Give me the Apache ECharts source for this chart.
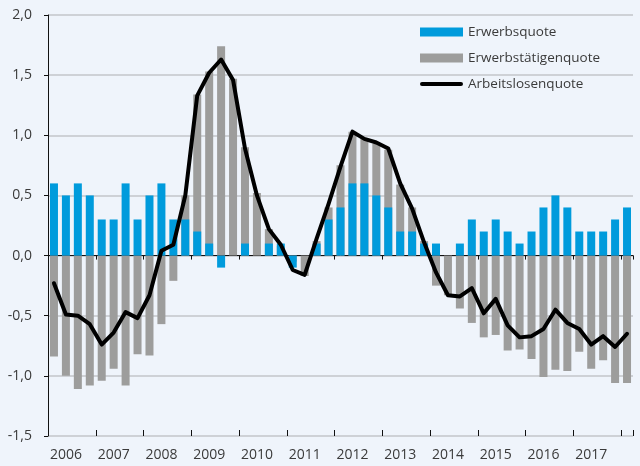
<!DOCTYPE html>
<html>
<head>
<meta charset="utf-8">
<script src="https://cdn.jsdelivr.net/npm/echarts@6/dist/echarts.min.js"></script>
<style>
  html, body { margin: 0; padding: 0; background: #eff4fb; }
  #chart { width: 640px; height: 466px; }
</style>
</head>
<body>
<div id="chart"></div>
<script>
// Quartale 2006 Q1 bis 2018 Q1
const years = ['2006', '2007', '2008', '2009', '2010', '2011', '2012', '2013', '2014', '2015', '2016', '2017', '2018']
const quarters = []
years.forEach(y => {
  for (let q = 1; q <= 4; q++) {
    if (y === '2018' && q > 1) break
    quarters.push(y + 'Q' + q)
  }
})

const erwerbsquote = [
  0.6, 0.5, 0.6, 0.5, 0.3, 0.3, 0.6, 0.3, 0.5, 0.6, 0.3, 0.3,
  0.2, 0.1, -0.1, 0, 0.1, 0, 0.1, 0.1, -0.1, 0, 0.1, 0.3,
  0.4, 0.6, 0.6, 0.5, 0.4, 0.2, 0.2, 0.1, 0.1, 0, 0.1, 0.3,
  0.2, 0.3, 0.2, 0.1, 0.2, 0.4, 0.5, 0.4, 0.2, 0.2, 0.2, 0.3,
  0.4
]
const erwerbstaetigenquote = [
  -0.84, -1.0, -1.11, -1.08, -1.04, -0.94, -1.08, -0.82, -0.83, -0.57, -0.21, 0.5,
  1.34, 1.53, 1.74, 1.47, 0.9, 0.52, 0.22, 0.08, -0.05, -0.17, 0.12, 0.4,
  0.75, 1.03, 0.97, 0.93, 0.88, 0.59, 0.4, 0.12, -0.25, -0.33, -0.44, -0.56,
  -0.68, -0.66, -0.79, -0.78, -0.86, -1.01, -0.95, -0.96, -0.8, -0.94, -0.87, -1.06,
  -1.06
]
const arbeitslosenquote = [
  -0.23, -0.49, -0.5, -0.57, -0.74, -0.64, -0.47, -0.52, -0.33, 0.04, 0.09, 0.5,
  1.33, 1.52, 1.63, 1.46, 0.89, 0.5, 0.22, 0.09, -0.12, -0.16, 0.14, 0.43,
  0.74, 1.03, 0.97, 0.94, 0.89, 0.6, 0.39, 0.11, -0.14, -0.33, -0.34, -0.27,
  -0.48, -0.36, -0.58, -0.68, -0.67, -0.61, -0.45, -0.56, -0.61, -0.74, -0.67, -0.76,
  -0.65
]

const textColor = '#3a3a3a'
const fontFamily = 'Open Sans'

const chart = echarts.init(document.getElementById('chart'))

const option = {
  backgroundColor: '#eff4fb',
  animation: false,
  grid: { left: 48, right: 7, top: 15, bottom: 30 },
  legend: {
    orient: 'vertical',
    left: 420,
    top: 24,
    padding: 0,
    itemWidth: 43,
    itemHeight: 9,
    itemGap: 10,
    textStyle: { color: textColor, fontSize: 13.5, fontFamily, lineHeight: 16 },
    data: [
      { name: 'Erwerbsquote', icon: 'rect' },
      { name: 'Erwerbstätigenquote', icon: 'rect' },
      { name: 'Arbeitslosenquote', icon: 'path://M2,0 L41,0 A2,2 0 0 1 41,4 L2,4 A2,2 0 0 1 2,0 Z' }
    ]
  },
  xAxis: [
    {
      // Nulllinie mit Jahresstrichen nach unten
      type: 'category',
      data: quarters,
      position: 'bottom',
      boundaryGap: true,
      axisLine: { onZero: true, lineStyle: { color: '#111', width: 1 } },
      axisTick: { show: true, inside: false, length: 4, interval: i => i % 4 === 0, lineStyle: { color: '#111' } },
      axisLabel: { show: false },
      splitLine: { show: false }
    },
    {
      // Jahresbeschriftung am unteren Rand
      type: 'category',
      data: quarters,
      position: 'bottom',
      boundaryGap: true,
      axisLine: { show: false, onZero: false },
      axisTick: { show: false },
      axisLabel: {
        interval: i => i % 4 === 1,
        formatter: v => v.slice(0, 4),
        color: textColor,
        fontSize: 14,
        fontFamily,
        margin: 12
      },
      splitLine: { show: false }
    },
    {
      // Jahresstriche nach oben
      type: 'category',
      data: quarters,
      position: 'bottom',
      boundaryGap: true,
      axisLine: { show: false, onZero: true },
      axisTick: { show: true, inside: true, length: 6, interval: i => i % 4 === 0, lineStyle: { color: '#111' } },
      axisLabel: { show: false },
      splitLine: { show: false }
    }
  ],
  yAxis: {
    type: 'value',
    min: -1.5,
    max: 2,
    interval: 0.5,
    axisLine: { show: true, lineStyle: { color: '#111', width: 1 } },
    axisTick: { show: true, length: 4, lineStyle: { color: '#111' } },
    axisLabel: {
      formatter: v => v.toFixed(1).replace('.', ','),
      color: textColor,
      fontSize: 14,
      fontFamily,
      margin: 16
    },
    splitLine: { lineStyle: { color: '#c3c6ca', width: 1.5 } }
  },
  series: [
    {
      name: 'Erwerbstätigenquote',
      type: 'bar',
      data: erwerbstaetigenquote,
      barWidth: 8,
      barGap: '-100%',
      itemStyle: { color: '#9d9d9c' },
      z: 2
    },
    {
      name: 'Erwerbsquote',
      type: 'bar',
      data: erwerbsquote,
      barWidth: 8,
      barGap: '-100%',
      itemStyle: { color: '#009bdc' },
      z: 3
    },
    {
      name: 'Arbeitslosenquote',
      type: 'line',
      data: arbeitslosenquote,
      symbol: 'none',
      lineStyle: { color: '#000', width: 4, cap: 'round', join: 'round' },
      itemStyle: { color: '#000' },
      z: 5
    }
  ]
}

chart.setOption(option)
</script>
</body>
</html>
